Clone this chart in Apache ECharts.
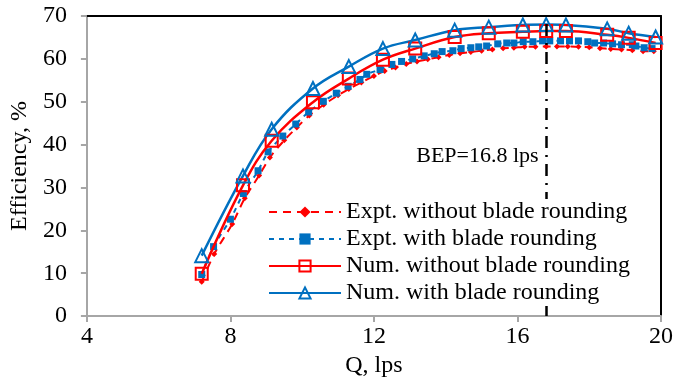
<!DOCTYPE html>
<html>
<head>
<meta charset="utf-8">
<script src="https://cdn.jsdelivr.net/npm/echarts@6/dist/echarts.min.js"></script>
<style>
  html, body { margin: 0; padding: 0; background: #fff; }
  #chart { width: 676px; height: 383px; }
</style>
</head>
<body>
<div id="chart"></div>
<script>
// experimental, without blade rounding
const exptNoQ = [7.2, 7.55, 8.05, 8.4, 8.8, 9.1, 9.5, 9.85, 10.2, 10.6, 11.0, 11.3, 11.65, 12.0, 12.3, 12.6, 12.9, 13.2, 13.5, 13.8, 14.1, 14.4, 14.7, 15.0, 15.3, 15.6, 15.9, 16.2, 16.5, 16.8, 17.1, 17.4, 17.7, 18.0, 18.3, 18.6, 18.9, 19.2, 19.5, 19.8]
const exptNoEff = [8.0, 14.5, 21.5, 27.5, 32.8, 37.0, 41.0, 44.0, 46.8, 49.3, 51.5, 53.0, 54.5, 56.0, 57.2, 58.0, 58.8, 59.4, 59.9, 60.4, 60.9, 61.3, 61.6, 61.9, 62.2, 62.5, 62.6, 62.8, 62.8, 62.9, 62.9, 62.9, 62.8, 62.7, 62.5, 62.3, 62.2, 62.0, 61.8, 61.8]

// experimental, with blade rounding
const exptWithQ = [7.2, 7.53, 8.0, 8.36, 8.77, 9.05, 9.46, 9.82, 10.18, 10.59, 10.95, 11.28, 11.61, 11.8, 12.17, 12.5, 12.77, 13.08, 13.4, 13.68, 13.9, 14.2, 14.43, 14.7, 14.92, 15.14, 15.45, 15.7, 15.9, 16.16, 16.43, 16.7, 16.9, 17.2, 17.45, 17.7, 17.96, 18.15, 18.4, 18.65, 18.9, 19.2, 19.3, 19.53, 19.75]
const exptWithEff = [9.7, 16.2, 22.6, 28.6, 33.9, 38.3, 42.0, 44.8, 47.6, 50.1, 52.0, 53.6, 55.2, 56.4, 57.5, 58.7, 59.4, 60.0, 60.7, 61.2, 61.7, 61.9, 62.4, 62.6, 62.8, 63.0, 63.5, 63.7, 63.7, 64.0, 64.0, 64.2, 64.2, 64.2, 64.2, 64.2, 64.0, 63.7, 63.7, 63.5, 63.3, 63.3, 63.0, 62.6, 62.4]

// numerical
const numQ = [7.2, 8.35, 9.15, 10.3, 11.3, 12.25, 13.15, 14.25, 15.2, 16.15, 16.8, 17.35, 18.5, 19.1, 19.85]
const numNoEff = [9.9, 30.5, 40.9, 49.9, 55.4, 59.8, 62.4, 65.1, 66.0, 66.3, 66.5, 66.5, 65.6, 64.9, 63.7]
const numWithEff = [14.1, 32.7, 43.6, 53.1, 58.2, 62.4, 64.4, 66.7, 67.4, 67.9, 68.0, 67.9, 67.0, 66.0, 65.1]

const xTicks = [4, 8, 12, 16, 20]
const bepQ = 16.8

const RED = "#ff0000"
const BLUE = "#0070c0"
const GREY = "#a6a6a6"
const FONT = "Liberation Serif"

const zip = (xs, ys) => xs.map((x, i) => [x, ys[i]])

const chart = echarts.init(document.getElementById("chart"), null, { renderer: "canvas" })

chart.setOption({
  animation: false,
  backgroundColor: "#fff",
  textStyle: { fontFamily: FONT },
  grid: { left: 84, right: 12, top: 16, bottom: 64 },
  legend: {
    z: 20,
    left: 266,
    top: 199,
    orient: "vertical",
    itemWidth: 72,
    itemHeight: 14,
    itemGap: 3,
    backgroundColor: "#fff",
    padding: [1, 4, 1, 2],
    textStyle: { fontFamily: FONT, fontSize: 24, color: "#000" },
    data: [
      "Expt. without blade rounding",
      "Expt. with blade rounding",
      "Num. without blade rounding",
      "Num. with blade rounding",
    ],
  },
  xAxis: [
    {
      type: "value",
      min: 4,
      max: 20,
      interval: 4,
      name: "Q, lps",
      nameLocation: "middle",
      nameGap: 29,
      nameTextStyle: { fontFamily: FONT, fontSize: 24, color: "#000" },
      axisLine: { onZero: false, lineStyle: { color: GREY, width: 2 } },
      axisTick: { show: true, length: 6, lineStyle: { color: GREY, width: 2 } },
      axisLabel: {
        fontFamily: FONT, fontSize: 24, color: "#000", margin: 9,
        formatter: (v) => (xTicks.includes(v) ? String(v) : ""),
      },
      splitLine: { show: false },
    },
    {
      type: "value",
      position: "top",
      min: 4,
      max: 20,
      axisLine: { show: true, onZero: false, lineStyle: { color: "#000", width: 2 } },
      axisTick: { show: false },
      axisLabel: { show: false },
      splitLine: { show: false },
    },
  ],
  yAxis: [
    {
      type: "value",
      min: 0,
      max: 70,
      interval: 10,
      name: "Efficiency, %",
      nameLocation: "middle",
      nameGap: 48,
      nameTextStyle: { fontFamily: FONT, fontSize: 24, color: "#000" },
      axisLine: { show: true, onZero: false, lineStyle: { color: GREY, width: 2 } },
      axisTick: { show: true, length: 6, lineStyle: { color: GREY, width: 2 } },
      axisLabel: { fontFamily: FONT, fontSize: 24, color: "#000", margin: 20 },
      splitLine: { show: false },
    },
    {
      type: "value",
      position: "right",
      min: 0,
      max: 70,
      axisLine: { show: true, onZero: false, lineStyle: { color: "#000", width: 2 } },
      axisTick: { show: false },
      axisLabel: { show: false },
      splitLine: { show: false },
    },
  ],
  series: [
    {
      name: "Expt. without blade rounding",
      type: "line",
      data: zip(exptNoQ, exptNoEff),
      smooth: 0.3,
      symbol: "diamond",
      symbolSize: 6,
      itemStyle: { color: RED },
      lineStyle: { color: RED, width: 2, type: [8, 6] },
      z: 2,
      markLine: {
        silent: true,
        symbol: "none",
        lineStyle: { color: "#000", width: 2.5, type: [12, 7, 2, 7] },
        label: { show: false },
        data: [{ xAxis: bepQ }],
      },
      markPoint: {
        silent: true,
        symbol: "circle",
        symbolSize: 1,
        itemStyle: { color: "transparent" },
        label: {
          show: true,
          position: "left",
          distance: 7,
          formatter: "BEP=16.8 lps",
          fontFamily: FONT,
          fontSize: 22,
          color: "#000",
        },
        data: [{ coord: [bepQ, 37.4] }],
      },
    },
    {
      name: "Expt. with blade rounding",
      type: "line",
      data: zip(exptWithQ, exptWithEff),
      smooth: 0.3,
      symbol: "rect",
      symbolSize: 7,
      itemStyle: { color: BLUE },
      lineStyle: { color: BLUE, width: 2, type: [5, 5] },
      z: 2,
    },
    {
      name: "Num. without blade rounding",
      type: "line",
      data: zip(numQ, numNoEff),
      smooth: 0.4,
      symbol: "rect",
      symbolSize: 12,
      showAllSymbol: true,
      itemStyle: { color: "rgba(255,255,255,0)", borderColor: RED, borderWidth: 2 },
      lineStyle: { color: RED, width: 2.5 },
      z: 3,
    },
    {
      name: "Num. with blade rounding",
      type: "line",
      data: zip(numQ, numWithEff),
      smooth: 0.4,
      symbol: "triangle",
      symbolSize: 13,
      showAllSymbol: true,
      itemStyle: { color: "rgba(255,255,255,0)", borderColor: BLUE, borderWidth: 2 },
      lineStyle: { color: BLUE, width: 2.5 },
      z: 3,
    },
  ],
})
</script>
</body>
</html>
